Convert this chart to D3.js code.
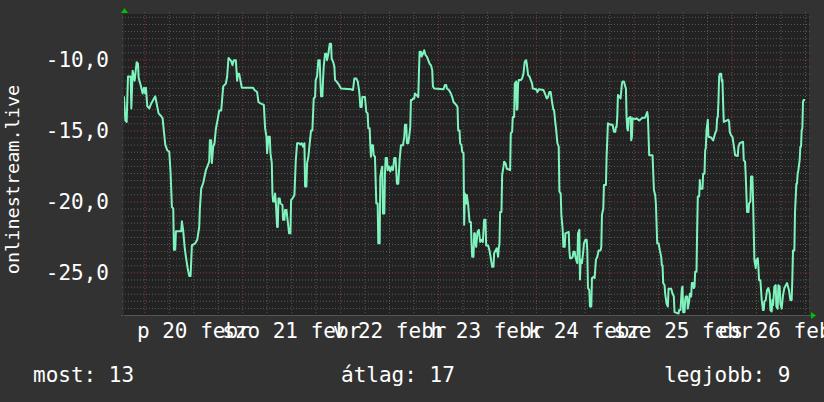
<!DOCTYPE html>
<html><head><meta charset="utf-8">
<script src="https://cdn.jsdelivr.net/npm/d3@7"></script>
<style>html,body{margin:0;padding:0;background:#323232;} svg{display:block;}</style>
</head><body>
<script>
// ---- data (hours since start of the graph, value) ----
const trace = [
[0.0,-12.6],[0.33,-14.3],[0.65,-14.4],[0.98,-11.2],[1.63,-11.2],[1.8,-13.45],[2.12,-10.8],[2.61,-11.5],[3.1,-10.2],[3.43,-10.3],[3.59,-11.3],[4.08,-11.8],[4.57,-12.4],[4.9,-12.0],[5.2,-12.4],[5.39,-12.0],[5.71,-13.3],[6.2,-13.45],[6.69,-13.1],[7.35,-12.75],[7.67,-12.6],[8.0,-13.1],[8.49,-13.8],[9.14,-14.0],[9.47,-14.15],[9.8,-15.1],[10.12,-16.0],[10.61,-16.4],[11.1,-16.5],[11.43,-18.0],[11.75,-20.4],[12.08,-20.5],[12.24,-23.4],[12.57,-23.4],[12.73,-22.1],[14.04,-22.1],[14.2,-21.4],[14.53,-22.1],[14.86,-23.2],[15.18,-23.9],[15.67,-24.8],[16.0,-25.25],[16.33,-25.25],[16.65,-23.1],[17.47,-22.95],[17.96,-22.7],[18.45,-21.8],[18.61,-20.5],[18.94,-19.1],[19.43,-18.7],[20.08,-17.8],[20.57,-17.45],[20.9,-17.2],[21.06,-15.7],[21.39,-15.7],[21.55,-17.3],[21.88,-16.15],[22.2,-15.9],[22.53,-14.9],[23.02,-14.15],[23.35,-13.6],[23.84,-13.6],[24.33,-11.9],[24.98,-11.7],[25.3,-11.2],[25.63,-9.9],[26.28,-10.1],[26.61,-10.4],[26.94,-10.05],[27.43,-10.05],[27.75,-11.5],
[27.92,-11.0],[28.25,-11.0],[28.57,-11.5],[28.9,-12.0],[31.67,-12.0],[32.0,-12.15],[32.65,-12.3],[32.98,-13.0],[33.47,-13.1],[34.29,-13.2],[34.61,-14.85],[34.94,-15.45],[35.1,-16.6],[35.43,-15.45],[35.76,-15.45],[35.92,-16.6],[36.25,-17.3],[36.41,-19.45],[36.57,-20.0],[36.9,-20.0],[37.06,-19.45],[37.23,-20.0],[37.55,-21.8],[37.72,-21.8],[37.88,-19.8],[38.2,-19.8],[38.37,-20.15],[38.86,-20.25],[39.02,-21.3],[39.35,-21.3],[39.51,-20.6],[39.84,-20.6],[40.16,-21.4],[40.49,-22.25],[40.82,-22.25],[40.98,-19.9],[41.31,-19.8],[41.8,-19.55],[42.12,-17.2],[42.45,-15.9],[42.94,-15.9],[43.27,-16.0],[43.59,-15.9],[43.92,-16.15],[44.25,-15.9],[44.41,-18.95],[44.74,-18.95],[44.9,-17.3],[45.22,-16.85],[45.55,-15.9],[45.88,-15.0],[46.2,-15.0],[46.53,-12.75],[46.86,-12.65],[47.02,-11.45],[47.35,-11.2],[47.67,-10.05],[48.0,-10.05],[48.16,-11.45],[48.33,-12.6],[48.65,-12.6],[48.82,-11.45],[48.98,-10.5],[49.31,-9.6],[49.63,-9.6],[49.8,-10.05],[50.12,-9.6],[50.45,-8.9],[50.78,-8.9],[50.94,-9.95],[51.27,-10.15],[51.59,-10.5],[51.76,-11.45],[52.25,-11.6],[52.73,-11.8],[53.22,-12.05],[55.67,-12.1],
[56.17,-12.15],[56.49,-11.35],[56.98,-11.35],[57.31,-11.55],[57.64,-12.15],[57.8,-12.65],[57.96,-13.35],[58.29,-13.35],[58.45,-12.65],[59.1,-12.65],[59.43,-13.7],[59.76,-13.8],[59.92,-14.85],[60.25,-14.85],[60.41,-16.05],[60.57,-16.85],[60.74,-16.05],[61.06,-16.05],[61.23,-16.75],[61.55,-16.85],[61.88,-20.15],[62.21,-20.15],[62.37,-22.95],[62.7,-22.95],[62.86,-18.25],[63.19,-17.7],[63.35,-17.55],[63.51,-20.85],[63.84,-20.85],[64.0,-18.05],[64.17,-16.95],[64.49,-16.95],[64.66,-17.8],[64.98,-17.55],[65.31,-17.9],[65.64,-17.55],[65.96,-17.8],[66.29,-16.95],[66.61,-16.95],[66.94,-18.75],[67.27,-18.75],[67.59,-17.1],[67.92,-16.05],[68.41,-16.05],[68.74,-15.45],[68.9,-14.6],[69.23,-14.6],[69.39,-15.9],[69.72,-15.9],[70.04,-15.2],[70.21,-14.75],[70.37,-12.85],[70.7,-12.85],[70.86,-12.75],[71.19,-12.75],[71.35,-12.4],[71.68,-12.5],[72.17,-12.65],[72.33,-11.0],[72.49,-9.45],[72.82,-9.45],[72.98,-9.8],[73.31,-9.6],[73.63,-9.35],[73.96,-9.7],[74.29,-9.8],[74.61,-10.05],[74.94,-10.3],[75.27,-10.4],[75.59,-10.75],[75.76,-11.9],[76.08,-12.05],[78.37,-12.1],[78.7,-11.8],[79.02,-11.8],[79.19,-12.05],[79.68,-12.15],[80.17,-12.4],[80.49,-12.65],[80.82,-13.0],[81.15,-13.1],[81.47,-13.2],[81.8,-13.35],[81.96,-15.0],[82.29,-15.0],[82.45,-15.9],[82.78,-16.05],[82.94,-16.5],[83.27,-16.6],[83.43,-21.65],
[83.6,-19.45],[83.92,-20.15],[84.09,-19.55],[84.41,-20.25],[84.74,-21.45],[85.07,-21.45],[85.23,-22.85],[85.39,-23.9],[85.72,-23.9],[85.88,-22.25],[86.05,-22.25],[86.37,-23.2],[86.7,-22.15],[87.03,-22.0],[87.35,-22.85],[87.68,-22.7],[88.01,-22.85],[88.33,-21.3],[88.66,-21.3],[88.82,-23.1],[89.31,-23.1],[89.64,-23.45],[89.96,-24.0],[90.29,-24.6],[90.62,-24.6],[90.78,-23.65],[91.11,-23.45],[91.43,-23.3],[91.76,-23.9],[91.92,-23.3],[92.09,-22.95],[92.25,-20.75],[92.58,-20.75],[92.74,-18.15],[93.07,-17.55],[93.23,-17.2],[93.56,-17.3],[93.88,-17.7],[94.7,-17.8],[94.86,-15.2],[95.19,-15.1],[95.35,-14.05],[95.68,-14.05],[95.84,-11.7],[96.17,-11.55],[96.33,-13.55],[96.49,-13.45],[96.66,-11.7],[96.82,-11.45],[97.31,-11.45],[97.64,-11.35],[97.96,-11.0],[98.29,-10.15],[98.62,-10.05],[98.78,-10.3],[99.11,-11.1],[99.43,-11.2],[99.76,-11.45],[100.09,-11.7],[100.25,-12.05],[101.07,-12.1],[101.39,-12.3],[101.72,-12.1],[102.86,-12.15],[103.35,-12.5],[103.68,-12.75],[104.0,-12.65],[104.33,-12.3],[104.66,-12.3],[104.98,-13.0],[105.31,-13.55],[105.47,-13.55],[105.8,-14.5],[105.96,-14.85],[106.29,-15.9],[106.62,-16.15],[106.78,-19.3],[107.11,-19.45],[107.27,-20.95],[107.6,-22.0],[107.76,-23.2],[108.09,-23.2],[108.25,-22.25],[109.07,-22.15],[109.23,-23.45],[109.39,-24.0],[109.72,-24.0],[110.05,-23.9],[110.21,-23.55],[110.54,-23.55],[110.7,-23.9],[111.03,-24.25],[111.19,-24.35],[111.35,-22.25],[111.68,-22.0],
[111.83,-25.5],[112.0,-24.1],[112.32,-24.35],[112.65,-23.45],[112.81,-22.95],[113.14,-22.7],[113.47,-22.7],[113.63,-23.45],[113.79,-26.1],[114.12,-26.25],[114.28,-27.4],[114.61,-27.4],[114.77,-25.4],[115.26,-25.3],[115.42,-25.4],[115.75,-24.1],[116.08,-23.9],[116.4,-23.45],[116.89,-23.45],[117.06,-23.2],[117.22,-20.95],[117.55,-20.5],[117.71,-18.85],[118.2,-18.85],[118.36,-16.85],[118.69,-14.5],[119.34,-14.6],[119.83,-14.6],[120.16,-15.1],[120.49,-15.1],[120.65,-14.75],[120.81,-14.75],[120.98,-14.05],[121.14,-12.5],[121.47,-12.6],[121.79,-12.75],[122.12,-11.7],[122.28,-11.55],[122.61,-11.55],[122.93,-11.9],[123.1,-12.05],[123.26,-14.05],[123.42,-14.85],[123.59,-15.0],[123.75,-14.15],[124.24,-14.05],[124.4,-15.7],[124.57,-15.45],[124.73,-14.15],[125.38,-14.2],[125.71,-14.15],[126.36,-14.3],[127.18,-14.1],[127.83,-14.1],[128.32,-13.7],[128.49,-14.05],[128.81,-16.75],[129.63,-16.75],[129.96,-19.2],[130.28,-19.55],[130.45,-20.15],[130.77,-22.95],[131.1,-22.95],[131.42,-23.45],[131.75,-23.9],[131.91,-24.5],[132.08,-24.5],[132.24,-25.75],[132.57,-25.9],[132.73,-26.5],[133.06,-27.2],[133.39,-27.4],[133.55,-26.15],[134.2,-26.15],[134.53,-26.5],[134.85,-26.7],[135.02,-27.8],[136.0,-27.9],[136.16,-27.65],[136.49,-27.65],[136.81,-26.15],[136.98,-26.0],[137.14,-27.8],[137.47,-27.8],[137.63,-26.95],[137.79,-26.7],[138.12,-26.7],[138.28,-27.55],[138.61,-27.05],[138.77,-26.5],[139.1,-26.7],[139.26,-25.75],[139.59,-25.75],
[139.75,-26.1],[139.92,-26.0],[140.08,-24.95],[140.41,-24.95],[140.57,-22.0],[140.73,-19.65],[141.06,-19.65],[141.22,-18.5],[141.39,-19.1],[141.88,-19.1],[142.04,-18.05],[142.37,-18.05],[142.53,-16.4],[142.69,-16.25],[142.86,-15.0],[143.18,-14.25],[143.34,-15.45],[144.0,-15.5],[144.49,-15.7],[144.98,-15.2],[145.3,-15.0],[145.47,-14.15],[145.63,-14.05],[145.79,-13.0],[145.96,-11.2],[146.12,-11.0],[146.45,-11.0],[146.61,-11.55],[146.77,-11.45],[146.94,-13.1],[147.1,-14.4],[148.24,-14.25],[148.41,-14.4],[148.57,-15.1],[148.9,-15.35],[149.22,-15.45],[149.55,-16.05],[149.88,-16.75],[150.53,-16.8],[150.69,-16.15],[151.02,-15.9],[151.83,-15.8],[152.0,-17.1],[152.32,-17.2],[152.49,-18.25],[152.81,-20.75],[153.14,-20.75],[153.3,-20.15],[153.63,-20.0],[153.79,-18.25],[154.12,-18.25],[154.28,-19.9],[154.61,-24.15],[154.94,-24.7],[155.1,-24.15],[155.43,-24.0],[155.59,-24.6],[155.75,-25.55],[156.08,-25.55],[156.41,-26.95],[156.73,-27.65],[156.9,-27.65],[157.06,-27.05],[157.39,-26.95],[157.71,-26.25],[158.04,-26.1],[158.37,-26.5],[158.53,-27.65],[158.85,-27.75],[159.02,-26.95],[159.18,-27.3],[159.34,-26.7],[159.51,-26.0],[159.83,-25.9],[160.0,-27.4],[160.32,-27.55],[160.49,-25.9],[160.81,-26.0],[160.98,-27.2],[161.3,-27.55],[161.63,-26.6],[161.96,-26.1],[162.61,-25.75],[163.1,-26.25],[163.43,-26.95],[163.75,-26.95],[163.92,-25.4],[164.08,-23.45],[164.41,-23.45],[164.57,-20.75],[164.9,-18.75],[165.06,-18.75],[165.22,-18.05],[165.39,-17.8],[165.71,-17.1],[165.88,-16.15],[166.04,-16.15],[166.2,-15.0],[166.37,-14.85],[166.53,-13.0],[166.69,-12.85],[167.02,-12.85]
];
const xDomainHours = [0, 168];
const yDomain = [-28, -6.8];
const yMajorTicks = [-25, -20, -15, -10];
const yMinorStep = 0.5;
const majorGridHours = [5, 29, 53, 77, 101, 125, 149];
const minorGridStepHours = 6;
const dayLabelHours = [17, 41, 65, 89, 113, 137, 161];
const dayLabels = ["p 20 febr", "szo 21 febr", "v 22 febr", "h 23 febr", "k 24 febr", "sze 25 febr", "cs 26 febr"];
const yTitle = "onlinestream.live";
const legendTexts = ["most: 13", "átlag: 17", "legjobb: 9"];

// ---- layout ----
const W = 824, H = 402;
const P = {left: 124, right: 809, top: 14, bottom: 315};
const FONT = "'DejaVu Sans Mono', monospace";

const svg = d3.select("body").append("svg").attr("width", W).attr("height", H);
svg.append("rect").attr("width", W).attr("height", H).attr("fill", "#323232");
svg.append("rect").attr("x", P.left).attr("y", P.top)
  .attr("width", P.right - P.left).attr("height", P.bottom - P.top).attr("fill", "#222222");

const x = d3.scaleLinear().domain(xDomainHours).range([P.left, P.right]);
const y = d3.scaleLinear().domain(yDomain).range([P.bottom, P.top]);

const loc = d3.formatLocale({decimal: ",", thousands: " ", grouping: [3], currency: ["", ""], minus: "-"});
const fmt = loc.format(".1f");

const minorY = d3.range(yDomain[0], yDomain[1], yMinorStep).filter(v => !yMajorTicks.includes(v));
const minorX = d3.range(majorGridHours[0], xDomainHours[1], minorGridStepHours).filter(h => !majorGridHours.includes(h));

const grid = svg.append("g");
const minorCol = "#5a5a5a", majorCol = "#8a3a3a";
function hGrid(vals, col) {
  grid.append("g").attr("transform", `translate(${P.left - 2},0)`)
    .call(d3.axisRight(y).tickValues(vals).tickSize(P.right - P.left + 4).tickFormat(""))
    .call(g => g.select(".domain").remove())
    .call(g => g.selectAll("line").attr("stroke", col).attr("stroke-dasharray", "1,2"));
}
function vGrid(vals, col) {
  grid.append("g").attr("transform", `translate(0,${P.top - 2})`)
    .call(d3.axisBottom(x).tickValues(vals).tickSize(P.bottom - P.top + 5).tickFormat(""))
    .call(g => g.select(".domain").remove())
    .call(g => g.selectAll("line").attr("stroke", col).attr("stroke-dasharray", "1,2"));
}
hGrid(minorY, minorCol);
vGrid(minorX, minorCol);
hGrid(yMajorTicks, majorCol);
vGrid(majorGridHours, majorCol);

// axis lines
svg.append("line").attr("x1", P.left - 3).attr("x2", P.right + 2).attr("y1", P.bottom + 0.5).attr("y2", P.bottom + 0.5)
  .attr("stroke", "#555").attr("stroke-width", 1);
svg.append("line").attr("x1", P.left - 0.5).attr("x2", P.left - 0.5).attr("y1", P.top - 2).attr("y2", P.bottom + 3)
  .attr("stroke", "#2c2c2c").attr("stroke-width", 1);

// arrows
svg.append("path").attr("d", `M${P.left - 3},${P.top - 1}L${P.left + 4},${P.top - 1}L${P.left + 0.5},${P.top - 6}Z`).attr("fill", "#00c000");
svg.append("path").attr("d", `M${P.right + 2},${P.bottom - 3}L${P.right + 2},${P.bottom + 4}L${P.right + 7},${P.bottom + 0.5}Z`).attr("fill", "#00c000");

// data line
svg.append("clipPath").attr("id", "pc").append("rect")
  .attr("x", P.left).attr("y", P.top - 2).attr("width", P.right - P.left).attr("height", P.bottom - P.top + 2);
svg.append("path").datum(trace)
  .attr("clip-path", "url(#pc)")
  .attr("fill", "none").attr("stroke", "#7ff3bd").attr("stroke-width", 2).attr("stroke-linejoin", "round")
  .attr("d", d3.line().x(d => x(d[0])).y(d => y(d[1])));

// y axis labels
svg.append("g").attr("transform", `translate(${P.left},0)`)
  .call(d3.axisLeft(y).tickValues(yMajorTicks).tickSize(0).tickPadding(15).tickFormat(fmt))
  .call(g => g.select(".domain").remove())
  .call(g => g.selectAll("text").attr("fill", "#fff").attr("font-family", FONT).attr("font-size", 21).attr("dy", "0.35em"));

// x axis labels
svg.append("g").attr("transform", `translate(0,${P.bottom})`)
  .call(d3.axisBottom(x).tickValues(dayLabelHours).tickSize(0).tickPadding(0).tickFormat((d, i) => dayLabels[i]))
  .call(g => g.select(".domain").remove())
  .call(g => g.selectAll("text").attr("fill", "#fff").attr("font-family", FONT).attr("font-size", 21).attr("dy", null).attr("y", 23));

// y title
svg.append("text").attr("transform", `translate(18.5,${(P.top + P.bottom) / 2 + 15}) rotate(-90)`)
  .attr("text-anchor", "middle").attr("fill", "#fff").attr("font-family", FONT).attr("font-size", 18.5)
  .text(yTitle);

// legend
const legendX = [33, 341, 664];
svg.selectAll(".leg").data(legendTexts).enter().append("text")
  .attr("x", (d, i) => legendX[i]).attr("y", 382)
  .attr("fill", "#fff").attr("font-family", FONT).attr("font-size", 21)
  .text(d => d);
</script>
</body></html>
